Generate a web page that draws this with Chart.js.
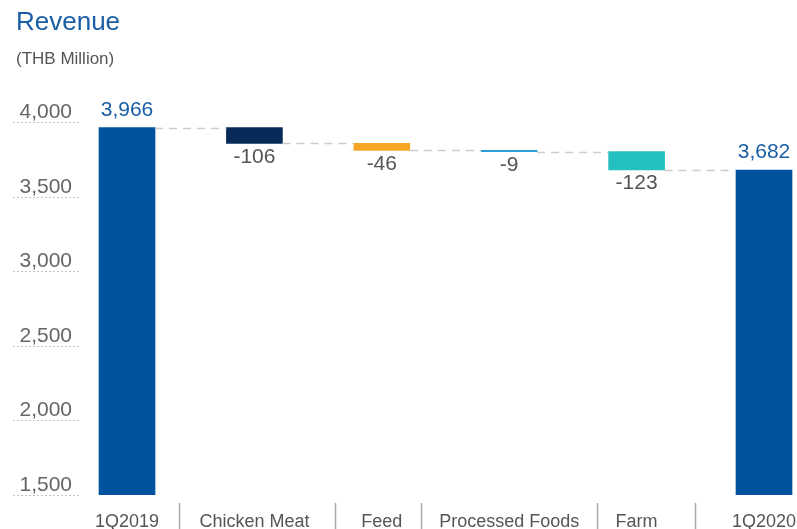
<!DOCTYPE html>
<html>
<head>
<meta charset="utf-8">
<script src="https://cdn.jsdelivr.net/npm/chart.js@4/dist/chart.umd.min.js"></script>
<style>
  html, body { margin: 0; padding: 0; background: #ffffff; }
  #wrap { width: 797px; height: 529px; }
</style>
</head>
<body>
<div id="wrap"><canvas id="c" width="797" height="529"></canvas></div>
<script>
// ---- data ----
const categories = ['1Q2019', 'Chicken Meat', 'Feed', 'Processed Foods', 'Farm', '1Q2020'];
const openingTotal = 3966;
const changes = [-106, -46, -9, -123];
const closingTotal = 3682;
const yTicks = [1500, 2000, 2500, 3000, 3500, 4000];

// ---- build waterfall ----
const bars = [openingTotal];
const levels = [openingTotal];
const valueLabels = [openingTotal.toLocaleString('en-US')];
let level = openingTotal;
changes.forEach(d => {
  bars.push([level + d, level]);
  level += d;
  levels.push(level);
  valueLabels.push(String(d));
});
bars.push(closingTotal);
valueLabels.push(closingTotal.toLocaleString('en-US'));

const FONT = '"Liberation Sans", Arial, Helvetica, sans-serif';
Chart.defaults.font.family = FONT;

const colors = ['#00539c', '#082a59', '#f6a623', '#2e9fd4', '#24bfbf', '#00539c'];

const waterfallPlugin = {
  id: 'waterfall',
  afterDatasetsDraw(chart) {
    const { ctx, scales: { y } } = chart;
    const meta = chart.getDatasetMeta(0);
    ctx.save();
    // dashed connectors
    ctx.strokeStyle = '#cccccc';
    ctx.lineWidth = 1.5;
    ctx.setLineDash([8, 6]);
    for (let i = 0; i < levels.length; i++) {
      const a = meta.data[i], b = meta.data[i + 1];
      const py = Math.round(y.getPixelForValue(levels[i])) + 0.5;
      ctx.beginPath();
      ctx.moveTo(a.x + a.width / 2, py);
      ctx.lineTo(b.x - b.width / 2, py);
      ctx.stroke();
    }
    ctx.setLineDash([]);
    // value labels
    ctx.font = '21px ' + FONT;
    ctx.textAlign = 'center';
    meta.data.forEach((el, i) => {
      const isTotal = !Array.isArray(bars[i]);
      if (isTotal) {
        ctx.fillStyle = '#1a5ea6';
        ctx.textBaseline = 'alphabetic';
        ctx.fillText(valueLabels[i], el.x, Math.min(el.y, el.base) - 12);
      } else {
        ctx.fillStyle = '#555555';
        ctx.textBaseline = 'top';
        ctx.fillText(valueLabels[i], el.x, Math.max(el.y, el.base) + 3);
      }
    });
    ctx.restore();
  },
  afterDraw(chart) {
    const { ctx, scales: { x }, chartArea } = chart;
    ctx.save();
    ctx.font = '18px ' + FONT;
    ctx.strokeStyle = '#aaaaaa';
    ctx.lineWidth = 1.5;
    for (let i = 0; i < categories.length - 1; i++) {
      const c1 = x.getPixelForTick(i), c2 = x.getPixelForTick(i + 1);
      const r1 = c1 + ctx.measureText(categories[i]).width / 2;
      const l2 = c2 - ctx.measureText(categories[i + 1]).width / 2;
      const sx = Math.round((r1 + l2) / 2) + 0.5;
      ctx.beginPath();
      ctx.moveTo(sx, chartArea.bottom + 8);
      ctx.lineTo(sx, chart.height);
      ctx.stroke();
    }
    ctx.restore();
  }
};

new Chart(document.getElementById('c'), {
  type: 'bar',
  data: {
    labels: categories,
    datasets: [{
      data: bars,
      backgroundColor: colors,
      borderWidth: 0,
      barThickness: 56
    }]
  },
  options: {
    responsive: false,
    animation: false,
    layout: { padding: { left: 16, right: 0, top: 0, bottom: 0 } },
    plugins: {
      legend: { display: false },
      tooltip: { enabled: false },
      title: {
        display: true, text: 'Revenue', align: 'start', color: '#1a5ea6',
        font: { size: 26, weight: 'normal', lineHeight: 1.2 },
        padding: { top: 7, bottom: 4 }
      },
      subtitle: {
        display: true, text: '(THB Million)', align: 'start', color: '#555555',
        font: { size: 17, weight: 'normal', lineHeight: 1.2 },
        padding: { top: 7, bottom: 53 }
      }
    },
    scales: {
      x: {
        type: 'category',
        grid: { display: false },
        border: { display: false },
        ticks: { color: '#555555', font: { size: 18 }, padding: 8, maxRotation: 0, autoSkip: false },
        afterBuildTicks(s) { s._startValue = -0.369; s._valueRange = 5.628; },
        afterFit(s) { s.height = 34; s.paddingLeft = 0; s.paddingRight = 0; }
      },
      y: {
        min: 1500, max: 4000,
        afterBuildTicks(s) { s.ticks = yTicks.map(v => ({ value: v })); },
        grid: { drawOnChartArea: false, tickLength: 67, tickColor: '#c4c4c4', tickBorderDash: [2, 2], tickWidth: 1 },
        border: { display: false },
        ticks: {
          padding: -59, labelOffset: -10, color: '#666666', font: { size: 21 },
          callback: v => Number(v).toLocaleString('en-US')
        },
        afterFit(s) { s.width = 64; }
      }
    }
  },
  plugins: [waterfallPlugin]
});
</script>
</body>
</html>
